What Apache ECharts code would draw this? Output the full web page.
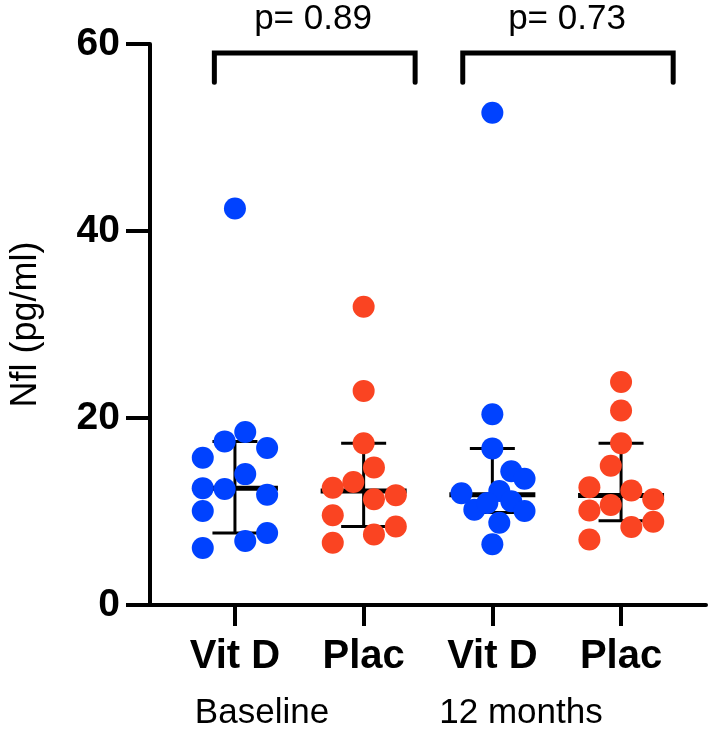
<!DOCTYPE html>
<html>
<head>
<meta charset="utf-8">
<script src="https://cdn.jsdelivr.net/npm/echarts@6/dist/echarts.min.js"></script>
<style>html,body{margin:0;padding:0;background:#fff}#c{width:709px;height:732px}</style>
</head>
<body>
<div id="c"></div>
<script>
// ---- data ----
var categories = ['Vit D', 'Plac', 'Vit D', 'Plac'];
var timeLabels = ['Baseline', '12 months'];
var pValues = ['p= 0.89', 'p= 0.73'];
var yTicks = [0, 20, 40, 60];

var blVitD = [42.4, 18.5, 17.5, 16.8, 15.75, 14.0, 12.5, 12.4, 11.8, 10.05, 7.7, 6.85, 6.1];
var blVitDJitter = [0, 0.08, -0.08, 0.25, -0.25, 0.08, -0.25, -0.08, 0.25, -0.25, 0.25, 0.08, -0.25];

var blPlac = [31.9, 22.9, 17.3, 14.7, 13.15, 12.55, 11.3, 11.75, 9.6, 7.55, 8.4, 6.65];
var blPlacJitter = [0, 0, 0, 0.08, -0.08, -0.24, 0.08, 0.25, -0.24, 0.08, 0.25, -0.24];

var m12VitD = [52.65, 20.4, 16.75, 14.3, 13.5, 11.95, 12.2, 10.2, 10.9, 11.1, 10.05, 8.8, 6.5];
var m12VitDJitter = [0, 0, 0, 0.147, 0.25, -0.24, 0.054, -0.14, -0.039, 0.147, 0.25, 0.054, 0];

var m12Plac = [23.85, 20.8, 17.3, 14.9, 12.6, 12.25, 11.3, 10.7, 10.1, 8.35, 8.9, 7.0];
var m12PlacJitter = [0, 0, 0, -0.08, -0.246, 0.08, 0.25, -0.08, -0.246, 0.08, 0.25, -0.246];

var medians = [12.5, 12.2, 11.8, 11.7];
var q1s = [7.7, 8.4, 9.9, 9.0];
var q3s = [17.5, 17.3, 16.75, 17.3];

// bracket [xLeft, xRight, yLow, yTop]
var brackets = [[-0.16, 1.40, 55.9, 59.05], [1.77, 3.405, 55.9, 59.05]];

// ---- build ----
var BLUE = '#0042ff', RED = '#fa4422';
var FONT = '"Liberation Sans", Arial, sans-serif';
function pts(vals, jit, g) { return vals.map(function (v, i) { return [g + jit[i], v]; }); }
var groups = [
  { d: pts(blVitD, blVitDJitter, 0), c: BLUE },
  { d: pts(blPlac, blPlacJitter, 1), c: RED },
  { d: pts(m12VitD, m12VitDJitter, 2), c: BLUE },
  { d: pts(m12Plac, m12PlacJitter, 3), c: RED }
];
var errData = medians.map(function (m, i) { return [i, m, q1s[i], q3s[i]]; });

var series = [];
series.push({
  type: 'custom',
  data: errData,
  z: 1,
  encode: { x: 0, y: [1, 2, 3] },
  renderItem: function (params, api) {
    var x = api.value(0);
    var pm = api.coord([x, api.value(1)]);
    var p1 = api.coord([x, api.value(2)]);
    var p3 = api.coord([x, api.value(3)]);
    var thin = { stroke: '#000', lineWidth: 3 };
    return {
      type: 'group',
      children: [
        { type: 'line', shape: { x1: pm[0], y1: p1[1], x2: pm[0], y2: p3[1] }, style: thin },
        { type: 'line', shape: { x1: pm[0] - 22.5, y1: p1[1], x2: pm[0] + 22.5, y2: p1[1] }, style: thin },
        { type: 'line', shape: { x1: pm[0] - 22.5, y1: p3[1], x2: pm[0] + 22.5, y2: p3[1] }, style: thin },
        { type: 'line', shape: { x1: pm[0] - 43, y1: pm[1], x2: pm[0] + 43, y2: pm[1] }, style: { stroke: '#000', lineWidth: 5 } }
      ]
    };
  }
});
groups.forEach(function (g) {
  series.push({
    type: 'scatter', data: g.d, symbolSize: 22, z: 3,
    itemStyle: { color: g.c, opacity: 1 }, silent: true
  });
});
brackets.forEach(function (b) {
  series.push({
    type: 'line', data: [[b[0], b[2]], [b[0], b[3]], [b[1], b[3]], [b[1], b[2]]],
    symbol: 'none', z: 2, silent: true,
    lineStyle: { color: '#000', width: 5, cap: 'round', join: 'miter' }
  });
});

var chart = echarts.init(document.getElementById('c'), null, { renderer: 'canvas' });
chart.setOption({
  animation: false,
  backgroundColor: '#fff',
  grid: { left: 148, right: 3, top: 44, bottom: 127, containLabel: false },
  xAxis: {
    type: 'value', min: -0.66, max: 3.66,
    splitLine: { show: false },
    axisLine: { show: true, onZero: false, lineStyle: { color: '#000', width: 4 } },
    axisTick: { show: true, length: 21, lineStyle: { color: '#000', width: 4 }, customValues: [0, 1, 2, 3] },
    axisLabel: {
      customValues: [0, 1, 2, 3],
      formatter: function (v) { return categories[Math.round(v)]; },
      color: '#000', fontFamily: FONT, fontWeight: 'bold', fontSize: 40, margin: 32
    }
  },
  yAxis: {
    type: 'value', min: 0, max: 60, interval: 20,
    name: 'Nfl (pg/ml)', nameLocation: 'middle', nameGap: 106,
    nameTextStyle: { color: '#000', fontFamily: FONT, fontSize: 36 },
    splitLine: { show: false },
    axisLine: { show: true, onZero: false, lineStyle: { color: '#000', width: 4 } },
    axisTick: { show: true, length: 24, lineStyle: { color: '#000', width: 4 } },
    axisLabel: {
      formatter: function (v) { return yTicks.indexOf(v) >= 0 ? String(v) : ''; },
      color: '#000', fontFamily: FONT, fontWeight: 'bold', fontSize: 39, margin: 30
    }
  },
  graphic: [
    { type: 'text', x: 313, y: 19, style: { text: pValues[0], font: '35px ' + FONT, fill: '#000', textAlign: 'center', textVerticalAlign: 'middle' } },
    { type: 'text', x: 567, y: 19, style: { text: pValues[1], font: '35px ' + FONT, fill: '#000', textAlign: 'center', textVerticalAlign: 'middle' } },
    { type: 'text', x: 262, y: 713, style: { text: timeLabels[0], font: '35px ' + FONT, fill: '#000', textAlign: 'center', textVerticalAlign: 'middle' } },
    { type: 'text', x: 521, y: 713, style: { text: timeLabels[1], font: '35px ' + FONT, fill: '#000', textAlign: 'center', textVerticalAlign: 'middle' } }
  ],
  series: series
});
</script>
</body>
</html>
